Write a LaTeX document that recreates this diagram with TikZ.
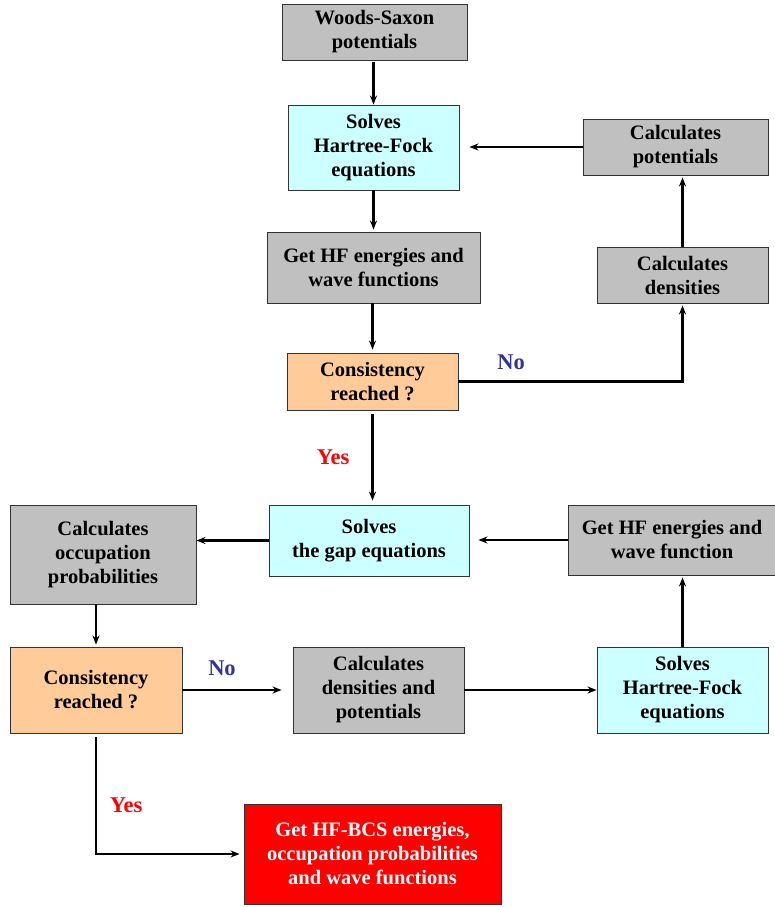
\documentclass[tikz,border=0pt]{standalone}
\usepackage{fontspec}
\setmainfont{Liberation Serif}
\usetikzlibrary{arrows.meta}

\definecolor{boxgray}{HTML}{C0C0C0}
\definecolor{boxcyan}{HTML}{CCFFFF}
\definecolor{boxorange}{HTML}{FFCC99}
\definecolor{boxred}{HTML}{FF0000}
\definecolor{noblue}{HTML}{333399}

\tikzset{
  box/.style={draw=black!80, line width=0.9pt, align=center, inner sep=1pt,
    font=\fontsize{20.5}{24}\selectfont\bfseries},
  gbox/.style={box, fill=boxgray},
  cbox/.style={box, fill=boxcyan},
  obox/.style={box, fill=boxorange},
  rbox/.style={box, fill=boxred, text=white},
  arr/.style={line width=2.6pt, -{Stealth[length=9pt,width=7pt]}},
  lab/.style={font=\fontsize{22.5}{24}\selectfont\bfseries}
}

\begin{document}
\begin{tikzpicture}[x=1pt,y=-1pt]
  \useasboundingbox (0,0) rectangle (775,907);
  % first (HF) loop
  \node[gbox, minimum width=185pt, minimum height=56pt] (ws) at (374.5,32) {Woods-Saxon\\potentials};
  \node[cbox, minimum width=171pt, minimum height=85pt] (hfa) at (373.5,147.5) {Solves\\Hartree-Fock\\equations};
  \node[gbox, minimum width=185pt, minimum height=56pt] (pot) at (675.5,147) {Calculates\\potentials};
  \node[gbox, minimum width=213pt, minimum height=71pt] (ehfa) at (373.5,267.5) {Get HF energies and\\wave functions};
  \node[gbox, minimum width=171pt, minimum height=56pt] (dens) at (682.5,275) {Calculates\\densities};
  \node[obox, minimum width=171pt, minimum height=57pt] (consa) at (372.5,381.5) {Consistency\\reached ?};
  % second (BCS) loop
  \node[cbox, minimum width=200pt, minimum height=71pt] (gap) at (369,540.5) {Solves\\the gap equations};
  \node[gbox, minimum width=186pt, minimum height=99pt] (occ) at (103,554.5) {Calculates\\occupation\\probabilities};
  \node[gbox, minimum width=208pt, minimum height=70pt] (ehfb) at (672,540) {Get HF energies and\\wave function};
  \node[obox, minimum width=172pt, minimum height=86pt] (consb) at (96,690) {Consistency\\reached ?};
  \node[gbox, minimum width=171pt, minimum height=86pt] (dp) at (378.5,690) {Calculates\\densities and\\potentials};
  \node[cbox, minimum width=171pt, minimum height=86pt] (hfb) at (682.5,690) {Solves\\Hartree-Fock\\equations};
  \node[rbox, minimum width=257pt, minimum height=100pt] (res) at (372.5,854) {Get HF-BCS energies,\\occupation probabilities\\and wave functions};

  % labels
  \node[lab, text=noblue] (noa) at (511,362) {No};
  \node[lab, text=red] (yesa) at (333,457) {Yes};
  \node[lab, text=noblue] (nob) at (222,668) {No};
  \node[lab, text=red] (yesb) at (126,805) {Yes};

  % connectors
  \draw[arr, shorten <=2pt] (hfa.north |- ws.south) -- (hfa.north);
  \draw[arr, shorten >=10pt] (pot.west) -- (pot.west -| hfa.east);
  \draw[arr, shorten >=2pt] (hfa.south) -- (ehfa.north);
  \draw[arr, shorten >=3pt] (consa.north |- ehfa.south) -- (consa.north);
  \draw[arr, shorten >=2pt] (consa.east) -| (dens.south);
  \draw[arr, shorten >=2pt] (dens.north) -- (dens.north |- pot.south);
  \draw[arr, shorten <=4pt, shorten >=4pt] (consa.south) -- (consa.south |- gap.north);
  \draw[arr] (gap.west) -- (gap.west -| occ.east);
  \draw[arr, shorten >=9pt] (ehfb.west) -- (ehfb.west -| gap.east);
  \draw[arr, shorten >=2pt] (occ.south -| consb.north) -- (consb.north);
  \draw[arr, shorten >=11pt] (consb) -- (dp);
  \draw[arr] (dp) -- (hfb);
  \draw[arr, shorten >=2pt] (hfb.north) -- (hfb.north |- ehfb.south);
  \draw[arr, shorten <=4pt, shorten >=4pt] (consb.south) |- (res.west);
\end{tikzpicture}
\end{document}
